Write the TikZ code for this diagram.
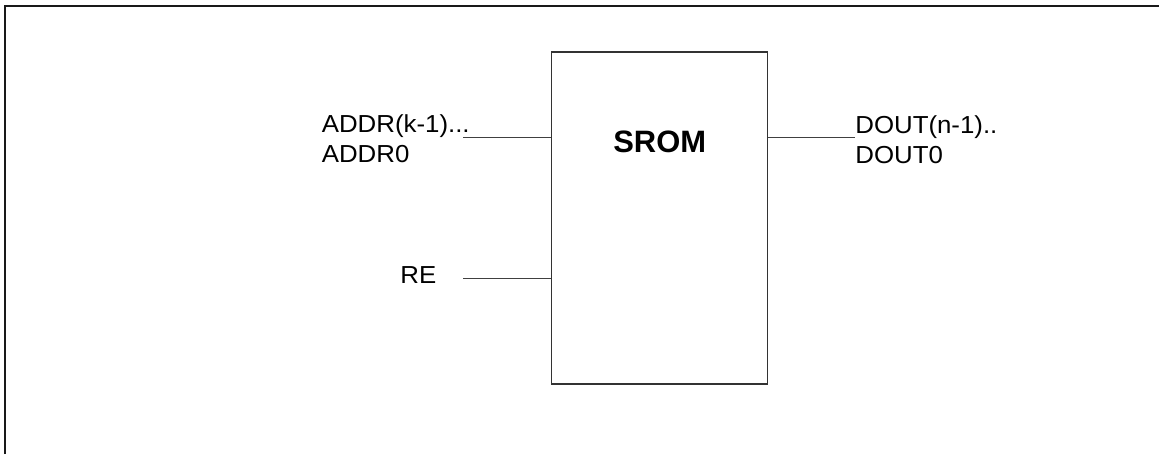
\documentclass[tikz,border=0pt]{standalone}
\usepackage{fontspec}
\setmainfont{Liberation Sans}
\newfontfamily\pinfont[FakeStretch=1.05]{Liberation Sans}
\usetikzlibrary{positioning}

\begin{document}
\begin{tikzpicture}[
    x=0.02cm, y=-0.02cm,
    frame/.style={line width=1.2pt, draw=black!90},
    chip/.style={rectangle, draw=black!80, line width=0.8pt, inner sep=0pt, minimum width=4.32cm, minimum height=6.64cm},
    pin/.style={draw=black!75, line width=0.6pt},
    pinlabel/.style={inner sep=0pt, align=left, font=\pinfont\fontsize{14}{17}\selectfont},
    title/.style={inner sep=0pt, font=\bfseries\fontsize{17.6}{20}\selectfont}
]
    \useasboundingbox (0,0) rectangle (1159,454);
    \draw[frame] (5,454) -- (5,6) -- (1159,6);

    \node[chip] (srom) at (659.7,218) {};
    \node[title] (name) at (659.7,141.7) {SROM};

    % pins
    \coordinate (addr) at (463,137.5);
    \coordinate (re) at (463,278.3);
    \coordinate (dout) at (855,137.5);
    \draw[pin] (addr) -- (addr -| srom.west);
    \draw[pin] (re) -- (re -| srom.west);
    \draw[pin] (srom.east |- dout) -- (dout);

    \node[pinlabel, anchor=north west] (addrtxt) at (321.5,114) {ADDR(k-1)...\\ADDR0};
    \node[pinlabel, anchor=north west] (douttxt) at (855,115) {DOUT(n-1)..\\DOUT0};
    \node[pinlabel, anchor=base west] (retxt) at (400,283.3) {RE};
\end{tikzpicture}
\end{document}
